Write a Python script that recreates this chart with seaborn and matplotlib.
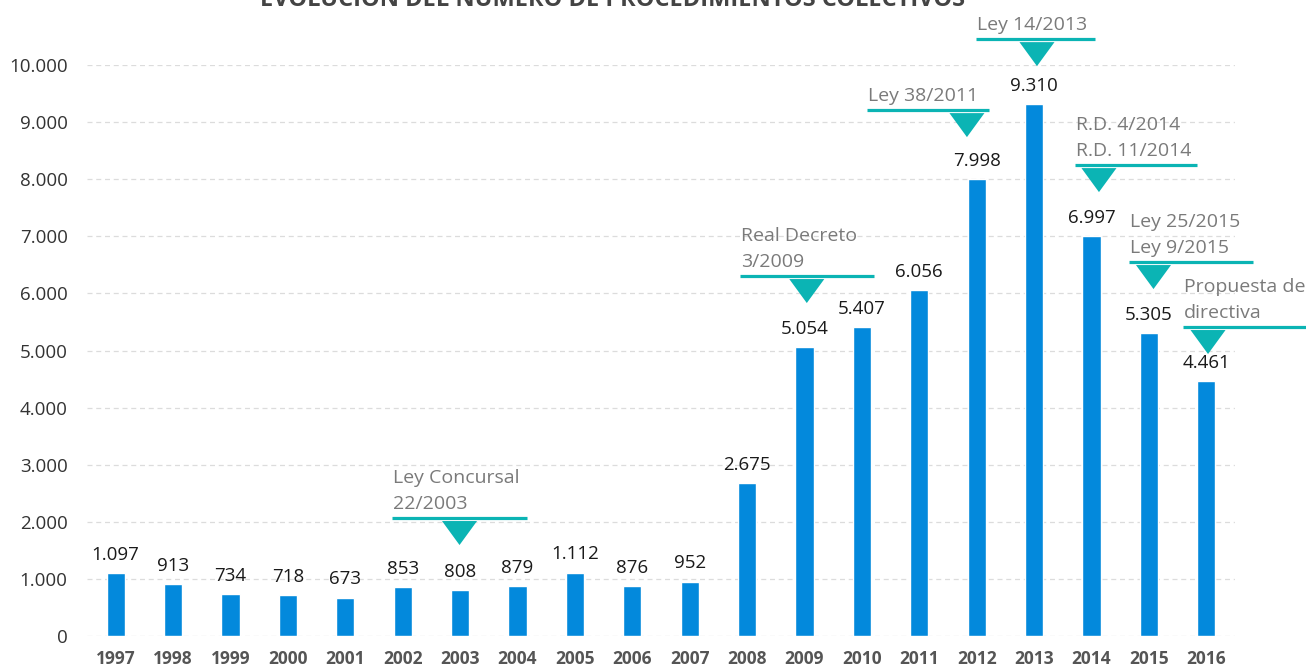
import numpy as np
import pandas as pd
import matplotlib
matplotlib.use("Agg")
import matplotlib.pyplot as plt
import seaborn as sns

# Data
years = [str(y) for y in range(1997, 2017)]
procedimientos = [1097, 913, 734, 718, 673, 853, 808, 879, 1112, 876,
                  952, 2675, 5054, 5407, 6056, 7998, 9310, 6997, 5305, 4461]

# Legislative milestones: label lines, triangle anchor (category index), line extent, line height
hito_textos = [["Ley Concursal", "22/2003"],
               ["Real Decreto", "3/2009"],
               ["Ley 38/2011"],
               ["Ley 14/2013"],
               ["R.D. 4/2014", "R.D. 11/2014"],
               ["Ley 25/2015", "Ley 9/2015"],
               ["Propuesta de", "directiva"]]
hito_centro = [5.99, 12.04, 14.83, 16.05, 17.13, 18.08, 19.03]
hito_x0 = [4.81, 10.87, 13.09, 14.99, 16.71, 17.66, 18.60]
hito_x1 = [7.16, 13.21, 15.21, 17.06, 18.84, 19.81, 20.74]
hito_y = [2066, 6304, 9210, 10453, 8247, 6549, 5411]

df = pd.DataFrame({"Año": years, "Procedimientos": procedimientos})

sns.set_style("white")
plt.rcParams["font.family"] = ["Open Sans", "DejaVu Sans"]

fig = plt.figure(figsize=(13.06, 6.69), dpi=100)
ax = fig.add_axes([87 / 1306, 33 / 669, 1148 / 1306, 571 / 669])

bar_color = "#0389dc"
teal = "#0bb4b4"
sns.barplot(data=df, x="Año", y="Procedimientos", color=bar_color,
            width=0.32, saturation=1, ax=ax, zorder=3)

ax.set_ylim(0, 10000)
ax.set_xlim(-0.5, len(years) - 0.5)
ax.set_yticks(np.arange(0, 10001, 1000))
ax.set_yticklabels([f"{int(v):,}".replace(",", ".") for v in np.arange(0, 10001, 1000)],
                   fontsize=13.5, color="#333333")
ax.set_xticks(range(len(years)))
ax.set_xticklabels(years, fontsize=12.5, fontweight="bold", color="#555555")
ax.tick_params(axis="y", length=0, pad=14)
ax.tick_params(axis="x", length=0, pad=10)
ax.set_xlabel("")
ax.set_ylabel("")
for s in ax.spines.values():
    s.set_visible(False)
ax.yaxis.grid(True, color="#dcdcdc", linestyle=(0, (4, 3)), linewidth=0.9, zorder=0)
ax.set_axisbelow(True)

# value labels
for i, v in enumerate(procedimientos):
    ax.annotate(f"{v:,}".replace(",", "."), (i, v), xytext=(0, 9.5),
                textcoords="offset points", ha="center", va="baseline",
                fontsize=13.5, color="#1a1a1a")

# px -> data conversion
px_y = 10000 / 571
px_x = 1 / 57.37

for textos, c, x0, x1, y in zip(hito_textos, hito_centro, hito_x0, hito_x1, hito_y):
    ax.plot([x0, x1], [y, y], color=teal, linewidth=2.3, clip_on=False,
            solid_capstyle="butt", zorder=5)
    top = y - 3 * px_y
    tip = y - 27 * px_y
    half = 17.5 * px_x
    ax.fill([c - half, c + half, c], [top, top, tip], color=teal,
            clip_on=False, zorder=5, linewidth=0)
    n = len(textos)
    for k, t in enumerate(textos):
        base = y + (9 + 26 * (n - 1 - k)) * px_y
        ax.text(x0 + 1 * px_x, base, t, fontsize=14, color="#7a7a7a",
                ha="left", va="baseline", clip_on=False, zorder=6)

fig.text(613 / 1306, 1 - 6 / 669, "EVOLUCIÓN DEL NÚMERO DE PROCEDIMIENTOS COLECTIVOS",
         ha="center", va="baseline", fontsize=17, fontweight="bold", color="#444444")

fig.savefig("out.png", dpi=100)
